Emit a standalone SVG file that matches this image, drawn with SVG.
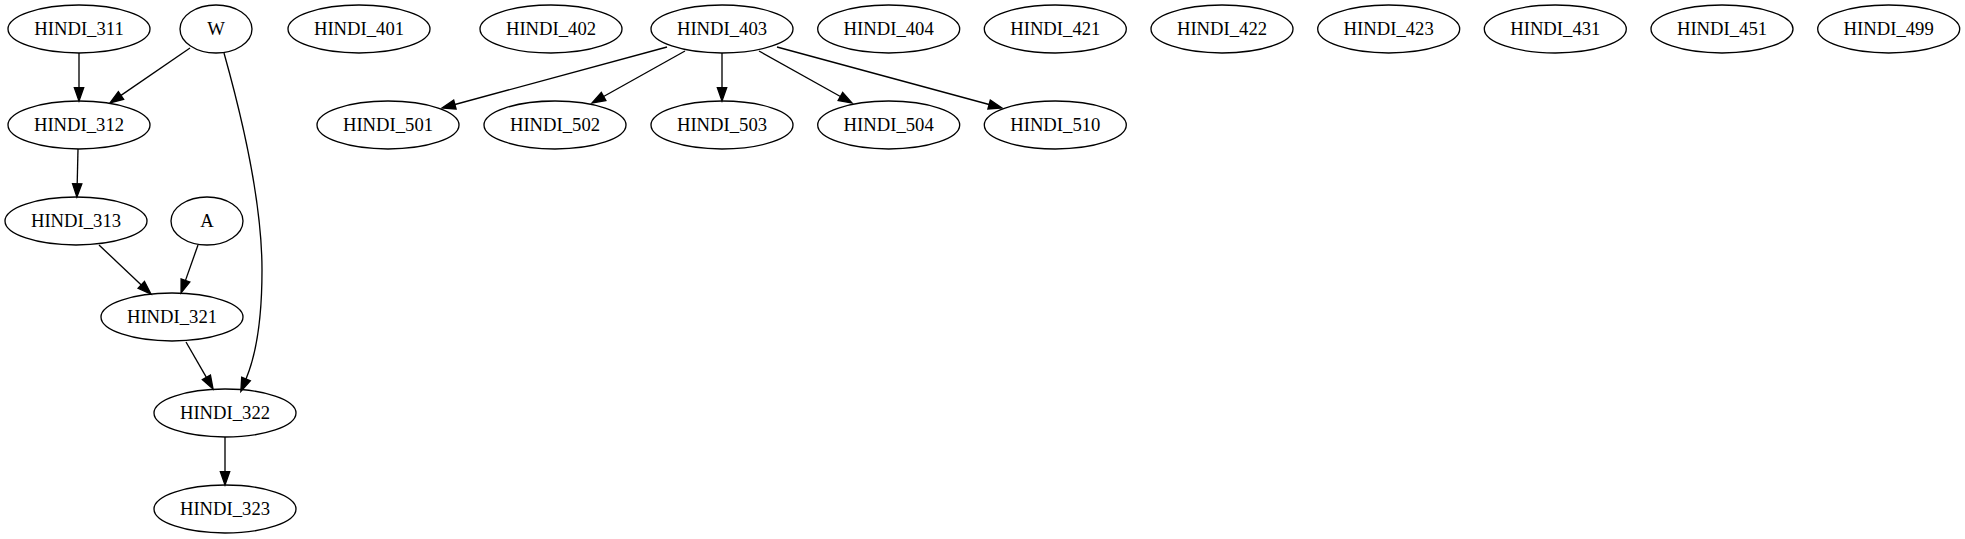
<svg xmlns="http://www.w3.org/2000/svg" width="1965" height="539" viewBox="0 0 1965 539">
<style>
.n ellipse{fill:none;stroke:#000;stroke-width:1.33}
.n text{font-family:"Liberation Serif","Times New Roman",serif;font-size:18.67px;text-anchor:middle;fill:#000}
#edges path{fill:none;stroke:#000;stroke-width:1.33;marker-end:url(#arr)}
</style>
<defs>
<marker id="arr" markerUnits="userSpaceOnUse" markerWidth="16" markerHeight="12" refX="0" refY="4.67" orient="auto" overflow="visible">
<polygon points="0,0 13.33,4.67 0,9.33" fill="#000" stroke="#000" stroke-width="1.33"/>
</marker>
</defs>
<rect width="1965" height="539" fill="#fff"/>
<g id="edges">
<path d="M79,53 L79,87.7"/>
<path d="M190,48 L121,95.4"/>
<path d="M224,53 C240,110 262,200 262,270 C262,318 256,355 246,379"/>
<path d="M78,149 L77.2,183.7"/>
<path d="M99,245 L141.3,284.9"/>
<path d="M198,245 L185.5,280.4"/>
<path d="M186,342 L206.4,377.4"/>
<path d="M225,437 L225,471.7"/>
<path d="M667,47 L454.9,104.5"/>
<path d="M685,51 L603.6,96.5"/>
<path d="M722,53 L722,87.7"/>
<path d="M759,51 L840.4,96.5"/>
<path d="M777,47 L989.1,104.5"/>
</g>
<g id="HINDI_311" class="n"><ellipse cx="79" cy="29" rx="71" ry="24"/><text x="79" y="35">HINDI_311</text></g>
<g id="W" class="n"><ellipse cx="216" cy="29" rx="36" ry="24"/><text x="216" y="35">W</text></g>
<g id="HINDI_401" class="n"><ellipse cx="359" cy="29" rx="71" ry="24"/><text x="359" y="35">HINDI_401</text></g>
<g id="HINDI_402" class="n"><ellipse cx="551" cy="29" rx="71" ry="24"/><text x="551" y="35">HINDI_402</text></g>
<g id="HINDI_403" class="n"><ellipse cx="722" cy="29" rx="71" ry="24"/><text x="722" y="35">HINDI_403</text></g>
<g id="HINDI_404" class="n"><ellipse cx="888.7" cy="29" rx="71" ry="24"/><text x="888.7" y="35">HINDI_404</text></g>
<g id="HINDI_421" class="n"><ellipse cx="1055.3" cy="29" rx="71" ry="24"/><text x="1055.3" y="35">HINDI_421</text></g>
<g id="HINDI_422" class="n"><ellipse cx="1222" cy="29" rx="71" ry="24"/><text x="1222" y="35">HINDI_422</text></g>
<g id="HINDI_423" class="n"><ellipse cx="1388.7" cy="29" rx="71" ry="24"/><text x="1388.7" y="35">HINDI_423</text></g>
<g id="HINDI_431" class="n"><ellipse cx="1555.3" cy="29" rx="71" ry="24"/><text x="1555.3" y="35">HINDI_431</text></g>
<g id="HINDI_451" class="n"><ellipse cx="1722" cy="29" rx="71" ry="24"/><text x="1722" y="35">HINDI_451</text></g>
<g id="HINDI_499" class="n"><ellipse cx="1888.7" cy="29" rx="71" ry="24"/><text x="1888.7" y="35">HINDI_499</text></g>
<g id="HINDI_312" class="n"><ellipse cx="79" cy="125" rx="71" ry="24"/><text x="79" y="131">HINDI_312</text></g>
<g id="HINDI_501" class="n"><ellipse cx="388" cy="125" rx="71" ry="24"/><text x="388" y="131">HINDI_501</text></g>
<g id="HINDI_502" class="n"><ellipse cx="555" cy="125" rx="71" ry="24"/><text x="555" y="131">HINDI_502</text></g>
<g id="HINDI_503" class="n"><ellipse cx="722" cy="125" rx="71" ry="24"/><text x="722" y="131">HINDI_503</text></g>
<g id="HINDI_504" class="n"><ellipse cx="888.7" cy="125" rx="71" ry="24"/><text x="888.7" y="131">HINDI_504</text></g>
<g id="HINDI_510" class="n"><ellipse cx="1055.3" cy="125" rx="71" ry="24"/><text x="1055.3" y="131">HINDI_510</text></g>
<g id="HINDI_313" class="n"><ellipse cx="76" cy="221" rx="71" ry="24"/><text x="76" y="227">HINDI_313</text></g>
<g id="A" class="n"><ellipse cx="207" cy="221" rx="36" ry="24"/><text x="207" y="227">A</text></g>
<g id="HINDI_321" class="n"><ellipse cx="172" cy="317" rx="71" ry="24"/><text x="172" y="323">HINDI_321</text></g>
<g id="HINDI_322" class="n"><ellipse cx="225" cy="413" rx="71" ry="24"/><text x="225" y="419">HINDI_322</text></g>
<g id="HINDI_323" class="n"><ellipse cx="225" cy="509" rx="71" ry="24"/><text x="225" y="515">HINDI_323</text></g>
</svg>
